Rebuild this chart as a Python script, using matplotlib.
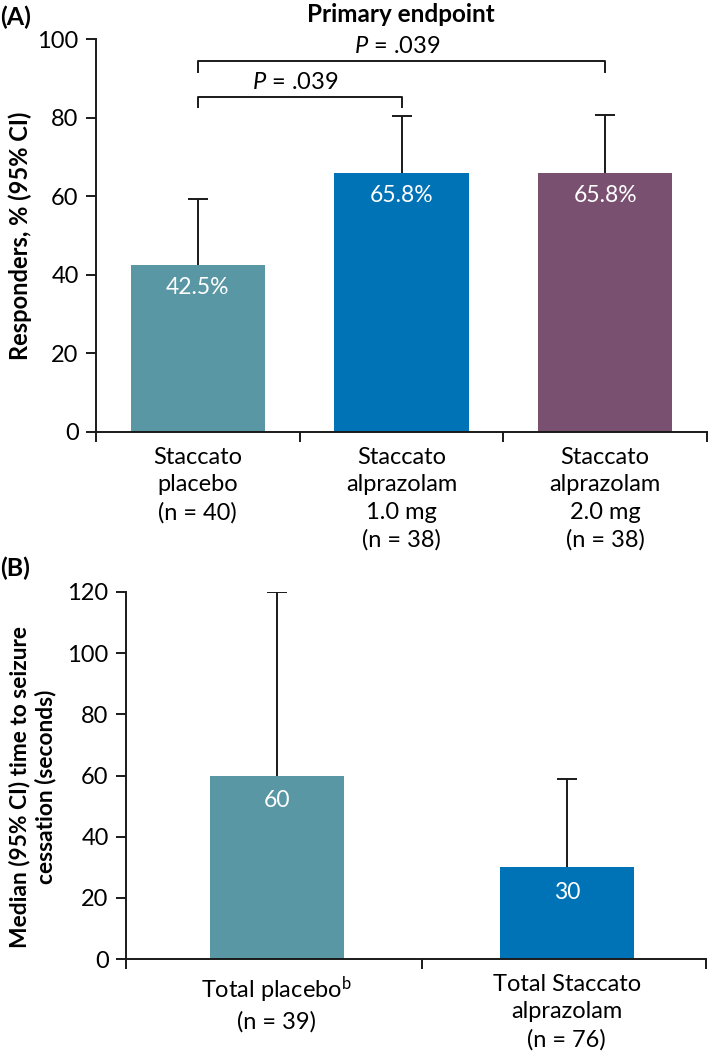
import matplotlib
matplotlib.use("Agg")
import matplotlib.pyplot as plt

plt.rcParams['font.family'] = ['Lato', 'DejaVu Sans']
plt.rcParams['mathtext.fontset'] = 'custom'
plt.rcParams['mathtext.rm'] = 'Lato'
plt.rcParams['mathtext.it'] = 'Lato:italic'

# ---- Panel A data ----
a_categories = ["Staccato\nplacebo\n(n = 40)",
                "Staccato\nalprazolam\n1.0 mg\n(n = 38)",
                "Staccato\nalprazolam\n2.0 mg\n(n = 38)"]
a_values = [42.5, 65.8, 65.8]
a_upper = [59.3, 80.3, 80.7]
a_colors = ["#5897A3", "#0072B6", "#7A5071"]
a_yticks = [0, 20, 40, 60, 80, 100]
a_brackets = [(0, 1, 85.3, 82.7, "$P$ = .039"), (0, 2, 94.3, 91.6, "$P$ = .039")]

# ---- Panel B data ----
b_categories = ["Total placebo$^{\\mathrm{b}}$\n(n = 39)",
                "Total Staccato\nalprazolam\n(n = 76)"]
b_values = [60, 30]
b_upper = [120, 59]
b_colors = ["#5897A3", "#0072B6"]
b_yticks = [0, 20, 40, 60, 80, 100, 120]

W, H = 709, 1052
fig = plt.figure(figsize=(W / 100, H / 100), dpi=100)

def ax_rect(l, r, b, t):
    return [l / W, 1 - b / H, (r - l) / W, (b - t) / H]

axA = fig.add_axes(ax_rect(96, 707, 432, 39))
axB = fig.add_axes(ax_rect(126, 706, 959, 592))

lw = 1.4
fs = 17
dark = '#1a1a1a'

def style(ax, n, yticks, x0):
    for s in ['top', 'right']:
        ax.spines[s].set_visible(False)
    for s in ['left', 'bottom']:
        ax.spines[s].set_linewidth(lw)
        ax.spines[s].set_color(dark)
    ax.set_xlim(x0, x0 + n)
    ax.set_ylim(0, yticks[-1])
    ax.set_yticks(yticks)
    ax.tick_params(axis='y', length=7, width=lw, labelsize=fs, pad=5.5, color=dark)
    ax.set_xticks([x0] + [i + 0.5 for i in range(n - 1)] + [x0 + n])
    ax.set_xticklabels([])
    ax.tick_params(axis='x', which='major', length=7, width=lw, color=dark)
    ax.set_xticks(list(range(n)), minor=True)
    ax.tick_params(axis='x', which='minor', length=0, labelsize=fs, pad=11)
    ax.spines['left'].set_bounds(0, yticks[-1])

style(axA, len(a_values), a_yticks, -0.5)
style(axB, len(b_values), b_yticks, -0.52)

def draw(ax, cats, vals, ups, cols, width, fmt, off):
    x = list(range(len(vals)))
    ax.bar(x, vals, width=width, color=cols, zorder=2)
    errs = [[0] * len(vals), [u - v for u, v in zip(ups, vals)]]
    _, caps, _ = ax.errorbar(x, vals, yerr=errs, fmt='none', ecolor=dark,
                             elinewidth=lw, capsize=7.5, capthick=lw, zorder=1)
    caps[0].set_visible(False)
    ax.set_xticklabels(cats, minor=True, linespacing=1.36)
    for xi, v in zip(x, vals):
        ax.annotate(fmt.format(v), (xi, v), xytext=(0, off), textcoords='offset points',
                    ha='center', va='center', color='white', fontsize=16.5)

draw(axA, a_categories, a_values, a_upper, a_colors, 0.66, "{}%", -16)
draw(axB, b_categories, b_values, b_upper, b_colors, 0.46, "{}", -18)

for i, j, ytop, ybot, label in a_brackets:
    axA.plot([i, i, j, j], [ybot, ytop, ytop, ybot], color=dark, lw=lw, clip_on=False)
    axA.annotate(label, ((i + j) / 2 - 0.02, ytop), xytext=(0, 3), textcoords='offset points',
                 ha='center', va='bottom', fontsize=fs)

axA.set_ylabel("Responders, % (95% CI)", fontsize=17, fontweight='bold')
axA.yaxis.set_label_coords(-0.105, 0.5)
axB.set_ylabel("Median (95% CI) time to seizure\ncessation (seconds)", fontsize=16.4,
               fontweight='bold', linespacing=1.22)
axB.yaxis.set_label_coords(-0.12, 0.47)

fig.text(401 / W, 1 - 14 / H, "Primary endpoint", ha='center', va='center',
         fontsize=17.5, fontweight='bold')
fig.text(0.0, 1 - 17 / H, "(A)", ha='left', va='center', fontsize=18, fontweight='bold')
fig.text(0.0, 1 - 568 / H, "(B)", ha='left', va='center', fontsize=18, fontweight='bold')

fig.savefig("out.png", dpi=100)
